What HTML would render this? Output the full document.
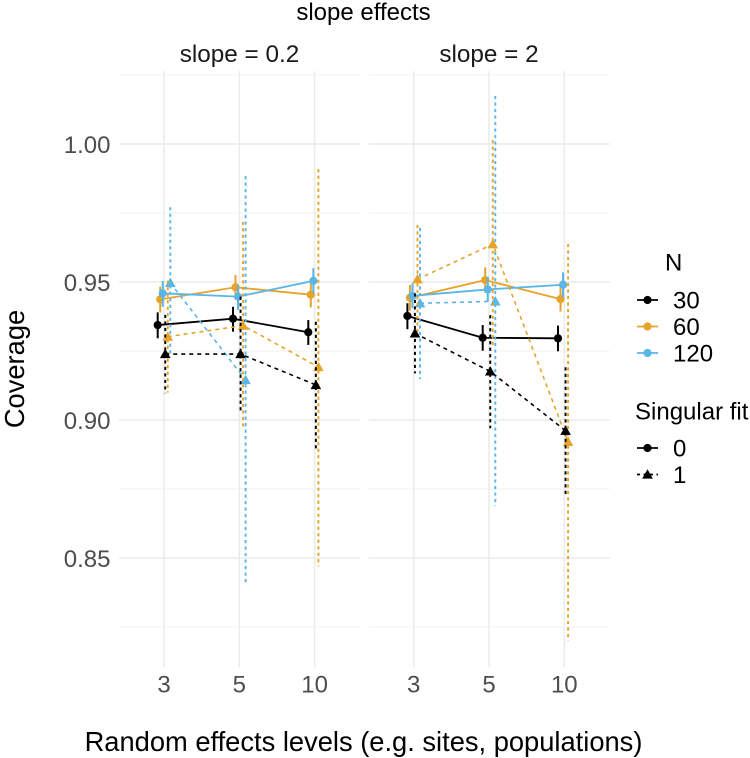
<!DOCTYPE html>
<html lang="en">
<head>
<meta charset="utf-8">
<title>slope effects</title>
<style>
html,body{margin:0;padding:0;background:#fff;}
svg{display:block;}
text{font-family:"Liberation Sans",Arial,sans-serif;}
</style>
</head>
<body>
<svg id="chart" xmlns="http://www.w3.org/2000/svg" width="750" height="758" viewBox="0 0 750 758">
<rect width="750" height="758" fill="#ffffff"/>
<g id="grid"></g>
<g id="marks"></g>
<text x="363.5" y="20" font-size="24" text-anchor="middle" fill="#000">slope effects</text>
<text x="239.5" y="62" font-size="24.3" text-anchor="middle" fill="#1a1a1a">slope = 0.2</text>
<text x="489" y="62" font-size="24.3" text-anchor="middle" fill="#1a1a1a">slope = 2</text>
<text x="363.5" y="751" font-size="27.3" text-anchor="middle" fill="#000">Random effects levels (e.g. sites, populations)</text>
<text transform="translate(24,369) rotate(-90)" font-size="27.3" text-anchor="middle" fill="#000">Coverage</text>
<g id="ticks"></g>
<g id="legend">
<text x="665" y="270.5" font-size="24" fill="#000">N</text>
<text x="635" y="419.5" font-size="24" fill="#000">Singular fit</text>
</g>
</svg>
<script>
// Data
const levels = ["3", "5", "10"];
const yTicks = [1.00, 0.95, 0.90, 0.85];
const yMinorTicks = [1.025, 0.975, 0.925, 0.875, 0.825];
const yTickLabels = ["1.00", "0.95", "0.90", "0.85"];
const sampleSizes = ["30", "60", "120"];
const singularFlags = ["0", "1"];

// Panel slope = 0.2: coverage, lower, upper by N and singular fit
const a30s0 = [0.9344, 0.9367, 0.9318];
const a30s0lo = [0.9296, 0.9320, 0.9272];
const a30s0hi = [0.9390, 0.9410, 0.9362];
const a60s0 = [0.9437, 0.9481, 0.9454];
const a60s0lo = [0.9390, 0.9435, 0.9408];
const a60s0hi = [0.9483, 0.9525, 0.9501];
const a120s0 = [0.9459, 0.9447, 0.9504];
const a120s0lo = [0.9410, 0.9399, 0.9459];
const a120s0hi = [0.9504, 0.9489, 0.9550];
const a30s1 = [0.9239, 0.9239, 0.9127];
const a30s1lo = [0.9097, 0.9030, 0.8897];
const a30s1hi = [0.9381, 0.9447, 0.9356];
const a60s1 = [0.9302, 0.9342, 0.9192];
const a60s1lo = [0.9099, 0.8966, 0.8469];
const a60s1hi = [0.9505, 0.9718, 0.9909];
const a120s1 = [0.9497, 0.9145, null];
const a120s1lo = [0.9228, 0.8402, null];
const a120s1hi = [0.9771, 0.9884, null];

// Panel slope = 2
const b30s0 = [0.9377, 0.9298, 0.9296];
const b30s0lo = [0.9329, 0.9251, 0.9249];
const b30s0hi = [0.9423, 0.9344, 0.9342];
const b60s0 = [0.9443, 0.9507, 0.9438];
const b60s0lo = [0.9396, 0.9461, 0.9393];
const b60s0hi = [0.9489, 0.9553, 0.9483];
const b120s0 = [0.9450, 0.9473, 0.9490];
const b120s0lo = [0.9405, 0.9429, 0.9445];
const b120s0hi = [0.9495, 0.9519, 0.9535];
const b30s1 = [0.9314, 0.9176, 0.8961];
const b30s1lo = [0.9169, 0.8970, 0.8728];
const b30s1hi = [0.9459, 0.9380, 0.9191];
const b60s1 = [0.9510, 0.9637, 0.8921];
const b60s1lo = [0.9313, 0.9266, 0.8200];
const b60s1hi = [0.9707, 1.0014, 0.9638];
const b120s1 = [0.9423, 0.9430, null];
const b120s1lo = [0.9148, 0.8688, null];
const b120s1hi = [0.9696, 1.0174, null];

const colours = ["#000000", "#E8A32A", "#5AB5E8"];

const panelA = [
  [a30s0, a30s0lo, a30s0hi, 0, 0], [a60s0, a60s0lo, a60s0hi, 1, 0], [a120s0, a120s0lo, a120s0hi, 2, 0],
  [a120s1, a120s1lo, a120s1hi, 2, 1], [a60s1, a60s1lo, a60s1hi, 1, 1], [a30s1, a30s1lo, a30s1hi, 0, 1]
];
const panelB = [
  [b30s0, b30s0lo, b30s0hi, 0, 0], [b60s0, b60s0lo, b60s0hi, 1, 0], [b120s0, b120s0lo, b120s0hi, 2, 0],
  [b120s1, b120s1lo, b120s1hi, 2, 1], [b60s1, b60s1lo, b60s1hi, 1, 1], [b30s1, b30s1lo, b30s1hi, 0, 1]
];

const SVGNS = "http://www.w3.org/2000/svg";
const gridG = document.getElementById("grid");
const marksG = document.getElementById("marks");
const ticksG = document.getElementById("ticks");
const legendG = document.getElementById("legend");

function yScale(v) { return 144 + (1 - v) * 2760; }
function xScale(panelLeft, levelIndex) { return panelLeft + 45 + levelIndex * 75.3; }
function dodge(n, s) { return (s * 3 + n - 2.5) * 2.52; }

function make(tag, attrs, parent) {
  const el = document.createElementNS(SVGNS, tag);
  for (const k in attrs) el.setAttribute(k, attrs[k]);
  parent.appendChild(el);
  return el;
}
function triPoints(x, y, r) {
  return (x - r) + "," + (y + r * 0.78) + " " + (x + r) + "," + (y + r * 0.78) + " " + x + "," + (y - r * 1.0);
}

const panelLefts = [119, 368.7];
const panelWidth = 241;
const panelTop = 71;
const panelBottom = 667;

panelLefts.forEach(function (left, p) {
  yMinorTicks.forEach(function (t) {
    const l = make("line", {x1: left, x2: left + panelWidth, y1: yScale(t), y2: yScale(t), stroke: "#ebebeb", "stroke-width": 0.8}, gridG);
    
    
  });
  yTicks.forEach(function (t) {
    const l = make("line", {x1: left, x2: left + panelWidth, y1: yScale(t), y2: yScale(t), stroke: "#ebebeb", "stroke-width": 1.5}, gridG);
    
    
  });
  levels.forEach(function (lab, i) {
    const x = xScale(left, i);
    const l = make("line", {x1: x, x2: x, y1: panelTop, y2: panelBottom, stroke: "#ebebeb", "stroke-width": 1.5}, gridG);
    
    
    const t = make("text", {x: x, y: 692.5, "font-size": 24, "text-anchor": "middle", fill: "#4d4d4d"}, ticksG);
    t.textContent = lab;
    
    
  });
});

yTicks.forEach(function (t, i) {
  const el = make("text", {x: 110.5, y: yScale(t) + 8.8, "font-size": 24, "text-anchor": "end", fill: "#4d4d4d"}, ticksG);
  el.textContent = yTickLabels[i];
  
  
});

function drawPanel(series, left) {
  series.forEach(function (s) {
    const vals = s[0], lo = s[1], hi = s[2], n = s[3], sing = s[4];
    const col = colours[n];
    const off = dodge(n, sing);
    const pts = [];
    vals.forEach(function (v, i) {
      if (v !== null) pts.push((xScale(left, i) + off) + "," + yScale(v));
    });
    const attrs = {points: pts.join(" "), fill: "none", stroke: col, "stroke-width": sing ? 1.6 : 1.8};
    if (sing) attrs["stroke-dasharray"] = "4 4";
    const line = make("polyline", attrs, marksG);
    
    
    vals.forEach(function (v, i) {
      if (v === null) return;
      const x = xScale(left, i) + off;
      const barAttrs = {x1: x, x2: x, y1: yScale(hi[i]), y2: yScale(lo[i]), stroke: col, "stroke-width": sing ? 1.9 : 2};
      if (sing) barAttrs["stroke-dasharray"] = "3.2 3.3";
      const bar = make("line", barAttrs, marksG);
      
      
      let mark;
      if (sing) {
        mark = make("polygon", {points: triPoints(x, yScale(v), 5.3), fill: col}, marksG);
      } else {
        mark = make("circle", {cx: x, cy: yScale(v), r: 4.1, fill: col}, marksG);
      }
      
      
    });
  });
}
drawPanel(panelA, panelLefts[0]);
drawPanel(panelB, panelLefts[1]);

const nLegendY = [300, 326.5, 353];
const sLegendY = [448, 474.5];
sampleSizes.forEach(function (lab, i) {
  const y = nLegendY[i];
  const l = make("line", {x1: 637, x2: 658, y1: y, y2: y, stroke: colours[i], "stroke-width": 1.8}, legendG);
  
  
  const c = make("circle", {cx: 647.5, cy: y, r: 4.1, fill: colours[i]}, legendG);
  
  
  const t = make("text", {x: 673, y: y + 8.5, "font-size": 24, fill: "#000"}, legendG);
  t.textContent = lab;
  
  
});
singularFlags.forEach(function (lab, i) {
  const y = sLegendY[i];
  const attrs = {x1: 637, x2: 658, y1: y, y2: y, stroke: "#000", "stroke-width": 1.8};
  if (i === 1) attrs["stroke-dasharray"] = "3 3.5";
  const l = make("line", attrs, legendG);
  
  
  const m = i === 0
    ? make("circle", {cx: 647.5, cy: y, r: 4.1, fill: "#000"}, legendG)
    : make("polygon", {points: triPoints(647.5, y, 5.3), fill: "#000"}, legendG);
  
  
  const t = make("text", {x: 673, y: y + 8.5, "font-size": 24, fill: "#000"}, legendG);
  t.textContent = lab;
  
  
});
</script>
</body>
</html>
